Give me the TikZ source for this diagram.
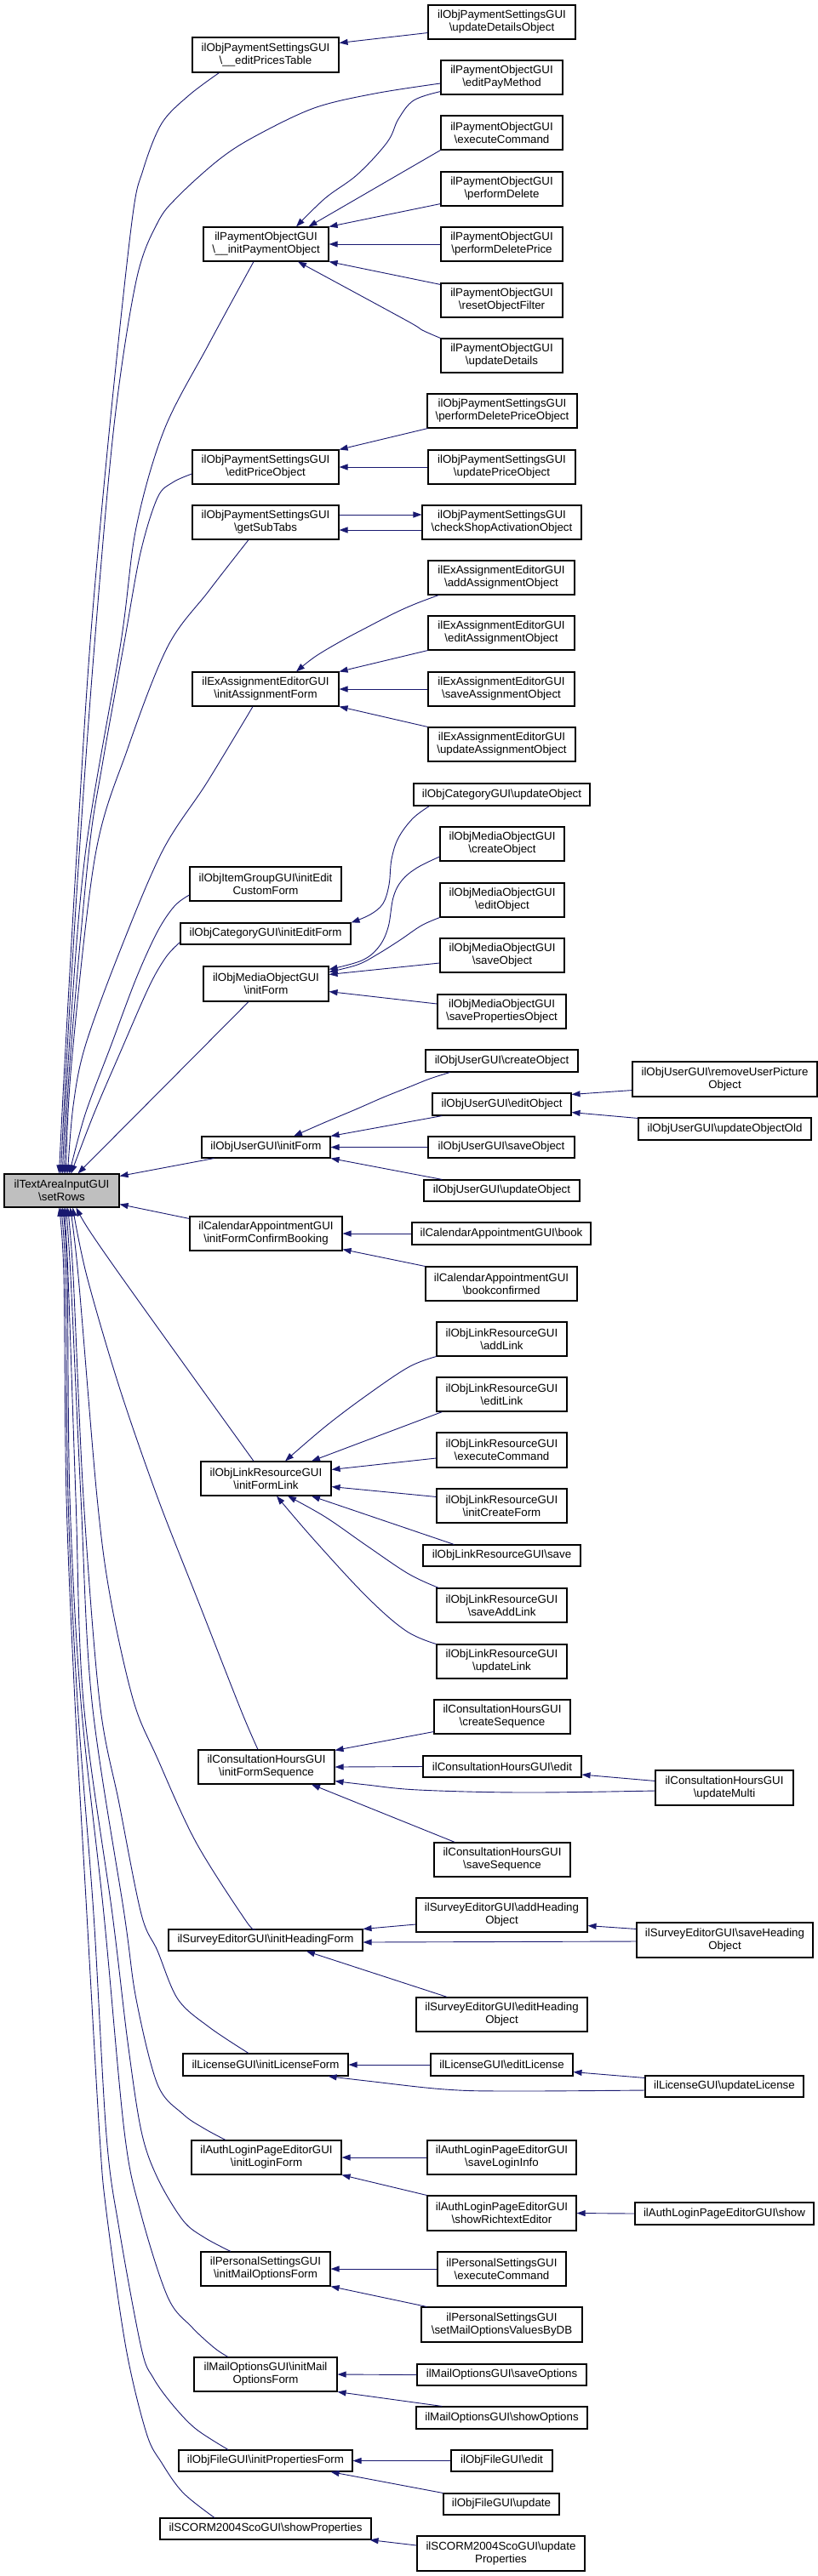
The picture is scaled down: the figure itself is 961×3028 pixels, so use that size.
\documentclass[tikz,border=0pt]{standalone}
\usepackage{fontspec}
\setmainfont{Liberation Sans}
\usetikzlibrary{arrows.meta,calc}
\definecolor{edgeblue}{HTML}{191970}
\definecolor{rootgray}{HTML}{BFBFBF}
\newcommand\bsl{\textbackslash}
\newcommand\bx[7][white]{%
  \pgfmathsetmacro\bxw{#5-#3}\pgfmathsetmacro\bxh{#6-#4}%
  \pgfmathsetmacro\bxx{(#3+#5)/2}\pgfmathsetmacro\bxy{(#4+#6)/2}%
  \node[nbox,fill=#1,minimum width=\bxw pt,minimum height=\bxh pt] (#2) at (\bxx,\bxy) {#7};}
\begin{document}
\begin{tikzpicture}[x=1pt,y=-1pt,
  nbox/.style={draw=black,line width=1.1pt,inner sep=0pt,align=center,
    font=\fontsize{13.3}{15}\selectfont},
  edge/.style={draw=edgeblue,line width=0.9pt,-{Triangle[length=10pt,width=7pt]}}]
\useasboundingbox (0,0) rectangle (961,3028);
% ---------------- nodes
\bx{eptable}{226}{44}{398}{85}{ilObjPaymentSettingsGUI\\\bsl\_\_editPricesTable}
\bx{upddetobj}{503}{6}{676}{46}{ilObjPaymentSettingsGUI\\\bsl updateDetailsObject}
\bx{editpay}{518}{71}{661}{111}{ilPaymentObjectGUI\\\bsl editPayMethod}
\bx{execpay}{518}{136}{661}{176}{ilPaymentObjectGUI\\\bsl executeCommand}
\bx{perfdel}{518}{202}{661}{242}{ilPaymentObjectGUI\\\bsl performDelete}
\bx{initpay}{239}{267}{386}{307}{ilPaymentObjectGUI\\\bsl\_\_initPaymentObject}
\bx{perfdelprice}{518}{267}{661}{307}{ilPaymentObjectGUI\\\bsl performDeletePrice}
\bx{resetfilter}{518}{333}{661}{373}{ilPaymentObjectGUI\\\bsl resetObjectFilter}
\bx{upddetails}{518}{398}{661}{438}{ilPaymentObjectGUI\\\bsl updateDetails}
\bx{perfdelpriceobj}{502}{463}{678}{503}{ilObjPaymentSettingsGUI\\\bsl performDeletePriceObject}
\bx{editprice}{226}{529}{398}{569}{ilObjPaymentSettingsGUI\\\bsl editPriceObject}
\bx{updprice}{503}{529}{676}{569}{ilObjPaymentSettingsGUI\\\bsl updatePriceObject}
\bx{subtabs}{226}{594}{398}{634}{ilObjPaymentSettingsGUI\\\bsl getSubTabs}
\bx{checkshop}{496}{594}{683}{634}{ilObjPaymentSettingsGUI\\\bsl checkShopActivationObject}
\bx{addassign}{503}{659}{675}{699}{ilExAssignmentEditorGUI\\\bsl addAssignmentObject}
\bx{editassign}{503}{724}{675}{764}{ilExAssignmentEditorGUI\\\bsl editAssignmentObject}
\bx{initassign}{226}{790}{398}{830}{ilExAssignmentEditorGUI\\\bsl initAssignmentForm}
\bx{saveassign}{503}{790}{675}{830}{ilExAssignmentEditorGUI\\\bsl saveAssignmentObject}
\bx{updassign}{503}{855}{676}{895}{ilExAssignmentEditorGUI\\\bsl updateAssignmentObject}
\bx{catupd}{486}{921}{693}{947}{ilObjCategoryGUI\bsl updateObject}
\bx{mmcreate}{517}{972}{663}{1012}{ilObjMediaObjectGUI\\\bsl createObject}
\bx{itemgroup}{223}{1019}{401}{1059}{ilObjItemGroupGUI\bsl initEdit\\CustomForm}
\bx{mmedit}{517}{1038}{663}{1078}{ilObjMediaObjectGUI\\\bsl editObject}
\bx{catinit}{212}{1085}{412}{1110}{ilObjCategoryGUI\bsl initEditForm}
\bx{mmsave}{517}{1103}{663}{1143}{ilObjMediaObjectGUI\\\bsl saveObject}
\bx{mminit}{239}{1136}{386}{1177}{ilObjMediaObjectGUI\\\bsl initForm}
\bx{mmsaveprop}{514}{1169}{665}{1209}{ilObjMediaObjectGUI\\\bsl savePropertiesObject}
\bx{ucreate}{500}{1234}{679}{1260}{ilObjUserGUI\bsl createObject}
\bx{uremove}{743}{1248}{960}{1289}{ilObjUserGUI\bsl removeUserPicture\\Object}
\bx{uedit}{508}{1285}{671}{1311}{ilObjUserGUI\bsl editObject}
\bx{uupdold}{750}{1314}{953}{1340}{ilObjUserGUI\bsl updateObjectOld}
\bx{uinit}{237}{1336}{388}{1361}{ilObjUserGUI\bsl initForm}
\bx{usave}{503}{1336}{675}{1361}{ilObjUserGUI\bsl saveObject}
\bx[rootgray]{setrows}{5}{1380}{140}{1419}{ilTextAreaInputGUI\\\bsl setRows}
\bx{uupd}{498}{1387}{681}{1412}{ilObjUserGUI\bsl updateObject}
\bx{calinit}{223}{1430}{402}{1470}{ilCalendarAppointmentGUI\\\bsl initFormConfirmBooking}
\bx{calbook}{484}{1437}{694}{1463}{ilCalendarAppointmentGUI\bsl book}
\bx{calbookconf}{500}{1489}{678}{1529}{ilCalendarAppointmentGUI\\\bsl bookconfirmed}
\bx{lnadd}{513}{1554}{666}{1594}{ilObjLinkResourceGUI\\\bsl addLink}
\bx{lnedit}{513}{1619}{666}{1659}{ilObjLinkResourceGUI\\\bsl editLink}
\bx{lnexec}{513}{1684}{666}{1725}{ilObjLinkResourceGUI\\\bsl executeCommand}
\bx{lninit}{236}{1718}{389}{1758}{ilObjLinkResourceGUI\\\bsl initFormLink}
\bx{lncreate}{513}{1750}{666}{1790}{ilObjLinkResourceGUI\\\bsl initCreateForm}
\bx{lnsave}{497}{1816}{682}{1841}{ilObjLinkResourceGUI\bsl save}
\bx{lnsaveadd}{513}{1867}{666}{1907}{ilObjLinkResourceGUI\\\bsl saveAddLink}
\bx{lnupd}{513}{1933}{666}{1973}{ilObjLinkResourceGUI\\\bsl updateLink}
\bx{chcreate}{510}{1998}{670}{2038}{ilConsultationHoursGUI\\\bsl createSequence}
\bx{chinit}{233}{2057}{393}{2097}{ilConsultationHoursGUI\\\bsl initFormSequence}
\bx{chedit}{497}{2064}{683}{2089}{ilConsultationHoursGUI\bsl edit}
\bx{chupd}{770}{2081}{932}{2122}{ilConsultationHoursGUI\\\bsl updateMulti}
\bx{chsave}{510}{2166}{670}{2206}{ilConsultationHoursGUI\\\bsl saveSequence}
\bx{svadd}{489}{2231}{690}{2271}{ilSurveyEditorGUI\bsl addHeading\\Object}
\bx{svinit}{198}{2268}{426}{2293}{ilSurveyEditorGUI\bsl initHeadingForm}
\bx{svsave}{748}{2260}{955}{2301}{ilSurveyEditorGUI\bsl saveHeading\\Object}
\bx{svedit}{489}{2348}{690}{2388}{ilSurveyEditorGUI\bsl editHeading\\Object}
\bx{licinit}{215}{2414}{409}{2440}{ilLicenseGUI\bsl initLicenseForm}
\bx{licedit}{506}{2414}{673}{2440}{ilLicenseGUI\bsl editLicense}
\bx{licupd}{758}{2440}{944}{2465}{ilLicenseGUI\bsl updateLicense}
\bx{alinit}{225}{2516}{401}{2556}{ilAuthLoginPageEditorGUI\\\bsl initLoginForm}
\bx{alsave}{502}{2516}{677}{2556}{ilAuthLoginPageEditorGUI\\\bsl saveLoginInfo}
\bx{alrich}{502}{2581}{677}{2622}{ilAuthLoginPageEditorGUI\\\bsl showRichtextEditor}
\bx{alshow}{746}{2589}{956}{2615}{ilAuthLoginPageEditorGUI\bsl show}
\bx{psinit}{236}{2647}{388}{2687}{ilPersonalSettingsGUI\\\bsl initMailOptionsForm}
\bx{psexec}{514}{2647}{665}{2687}{ilPersonalSettingsGUI\\\bsl executeCommand}
\bx{psset}{495}{2712}{684}{2753}{ilPersonalSettingsGUI\\\bsl setMailOptionsValuesByDB}
\bx{moinit}{228}{2771}{396}{2811}{ilMailOptionsGUI\bsl initMail\\OptionsForm}
\bx{mosave}{490}{2779}{689}{2804}{ilMailOptionsGUI\bsl saveOptions}
\bx{moshow}{489}{2829}{690}{2855}{ilMailOptionsGUI\bsl showOptions}
\bx{fiinit}{210}{2880}{414}{2905}{ilObjFileGUI\bsl initPropertiesForm}
\bx{fiedit}{530}{2880}{649}{2905}{ilObjFileGUI\bsl edit}
\bx{fiupd}{521}{2931}{657}{2956}{ilObjFileGUI\bsl update}
\bx{scshow}{188}{2960}{436}{2985}{ilSCORM2004ScoGUI\bsl showProperties}
\bx{scupd}{490}{2981}{687}{3022}{ilSCORM2004ScoGUI\bsl update\\Properties}
% ---------------- group edges
\draw[edge] ($(upddetobj.south west)+(0,-8)$) -- ($(eptable.north east)+(0,7)$);
\coordinate (p1a) at ($(editpay.south west)+(0,-4)$);
\coordinate (p1b) at ($(initpay.north)+(35.5,0)$);
\draw[edge] plot[smooth,tension=0.6] coordinates {(p1a) (486,118) (468,140) (455,167) (420,205) (382,233) (p1b)};
\draw[edge] (execpay.south west) -- ($(initpay.north)+(50,0)$);
\draw[edge] ($(perfdel.south west)+(0,-3)$) -- (initpay.north east);
\draw[edge] (perfdelprice.west) -- (initpay.east);
\draw[edge] ($(resetfilter.north west)+(0,2)$) -- (initpay.south east);
\coordinate (p2a) at (upddetails.north west);
\coordinate (p2b) at ($(initpay.south)+(37.5,0)$);
\draw[edge] plot[smooth,tension=0.5] coordinates {(p2a) (496,388) (478,377) (p2b)};
\draw[edge] ($(perfdelpriceobj.south west)+(1,0)$) -- (editprice.north east);
\draw[edge] (updprice.west) -- (editprice.east);
\draw[edge] ($(subtabs.east)+(0,-9)$) -- ($(checkshop.west)+(0,-9)$);
\draw[edge] ($(checkshop.west)+(0,9)$) -- ($(subtabs.east)+(0,9)$);
\coordinate (a1a) at ($(addassign.south west)+(13,0)$);
\coordinate (a1b) at ($(initassign.north)+(36,0)$);
\draw[edge] plot[smooth,tension=0.6] coordinates {(a1a) (490,709) (465,720) (430,738) (400,754) (370,772) (a1b)};
\draw[edge] (editassign.south west) -- (initassign.north east);
\draw[edge] (saveassign.west) -- (initassign.east);
\draw[edge] (updassign.north west) -- (initassign.south east);
\coordinate (c1a) at ($(catupd.south west)+(19,0)$);
\draw[edge] plot[smooth,tension=0.6] coordinates {(c1a) (485,962) (468,985) (460,1010) (457,1040) (450,1062) (435,1075) (catinit.north east)};
\coordinate (m1a) at ($(mmcreate.west)+(0,15)$);
\coordinate (m1b) at ($(mminit.north east)+(0,4)$);
\draw[edge] plot[smooth,tension=0.6] coordinates {(m1a) (490,1020) (472,1035) (462,1055) (456,1090) (445,1113) (425,1129) (m1b)};
\coordinate (m2b) at ($(mminit.north east)+(0,7)$);
\draw[edge] plot[smooth,tension=0.6] coordinates {(mmedit.south west) (495,1088) (470,1105) (443,1122) (420,1134) (m2b)};
\draw[edge] ($(mmsave.west)+(0,9)$) -- ($(mminit.north east)+(0,10)$);
\draw[edge] ($(mmsaveprop.west)+(0,-9)$) -- ($(mminit.south east)+(0,-12)$);
\coordinate (u1a) at ($(ucreate.south west)+(29,0)$);
\coordinate (u1b) at ($(uinit.north)+(32.5,0)$);
\draw[edge] plot[smooth,tension=0.6] coordinates {(u1a) (505,1268) (480,1278) (450,1290) (418,1304) (380,1320) (u1b)};
\draw[edge] ($(uedit.south west)+(12,0)$) -- (uinit.north east);
\draw[edge] (usave.west) -- (uinit.east);
\draw[edge] ($(uupd.north west)+(22,0)$) -- (uinit.south east);
\draw[edge] ($(uremove.south west)+(0,-8)$) -- ($(uedit.north east)+(0,2)$);
\draw[edge] ($(uupdold.north west)+(0,1)$) -- ($(uedit.south east)+(0,-4)$);
\draw[edge] (calbook.west) -- (calinit.east);
\draw[edge] (calbookconf.north west) -- ($(calinit.south east)+(0,-2)$);
\coordinate (l1b) at ($(lninit.north)+(22.5,0)$);
\draw[edge] plot[smooth,tension=0.6] coordinates {(lnadd.south west) (480,1607) (431,1640) (382,1677) (l1b)};
\draw[edge] ($(lnedit.south west)+(7,0)$) -- ($(lninit.north)+(53.5,0)$);
\draw[edge] ($(lnexec.west)+(0,9.5)$) -- ($(lninit.north east)+(0,10)$);
\draw[edge] ($(lncreate.north west)+(0,10)$) -- ($(lninit.south east)+(0,-11)$);
\draw[edge] ($(lnsave.north west)+(37,0)$) -- ($(lninit.south)+(53.5,0)$);
\coordinate (l2a) at ($(lnsaveadd.north west)+(3,0)$);
\coordinate (l2b) at ($(lninit.south)+(25.5,0)$);
\draw[edge] plot[smooth,tension=0.6] coordinates {(l2a) (480,1850) (431,1817) (382,1783) (l2b)};
\coordinate (l3b) at ($(lninit.south)+(12.5,0)$);
\draw[edge] plot[smooth,tension=0.6] coordinates {(lnupd.north west) (477,1917) (431,1877) (369,1810) (l3b)};
\draw[edge] ($(chcreate.south west)+(0,-3)$) -- ($(chinit.north east)+(0,1)$);
\draw[edge] (chedit.west) -- (chinit.east);
\draw[edge] ($(chupd.north west)+(0,13)$) -- ($(chedit.east)+(0,9.5)$);
\coordinate (h1a) at ($(chupd.west)+(0,3.5)$);
\coordinate (h1b) at ($(chinit.south east)+(0,-4)$);
\draw[edge] plot[smooth,tension=0.6] coordinates {(h1a) (615,2107) (492,2104) (431,2098) (h1b)};
\draw[edge] ($(chsave.north west)+(25,0)$) -- ($(chinit.south)+(53,0)$);
\draw[edge] ($(svadd.west)+(0,11)$) -- (svinit.north east);
\draw[edge] ($(svsave.north west)+(0,8)$) -- ($(svadd.south east)+(0,-8)$);
\draw[edge] ($(svsave.west)+(0,1.5)$) -- ($(svinit.east)+(0,2.5)$);
\draw[edge] ($(svedit.north west)+(37,0)$) -- ($(svinit.south)+(48,0)$);
\draw[edge] (licedit.west) -- (licinit.east);
\draw[edge] ($(licupd.north west)+(0,3)$) -- ($(licedit.south east)+(0,-5)$);
\coordinate (i1a) at ($(licupd.west)+(0,4.5)$);
\coordinate (i1b) at ($(licinit.south east)+(-24,0)$);
\draw[edge] plot[smooth,tension=0.6] coordinates {(i1a) (600,2458) (523,2456) (431,2446) (i1b)};
\draw[edge] (alsave.west) -- (alinit.east);
\draw[edge] (alrich.north west) -- (alinit.south east);
\draw[edge] (alshow.west) -- (alrich.east);
\draw[edge] (psexec.west) -- (psinit.east);
\draw[edge] ($(psset.north west)+(7,0)$) -- (psinit.south east);
\draw[edge] (mosave.west) -- (moinit.east);
\draw[edge] ($(moshow.north west)+(31,0)$) -- (moinit.south east);
\draw[edge] (fiedit.west) -- (fiinit.east);
\draw[edge] (fiupd.north west) -- ($(fiinit.south east)+(-26,0)$);
\draw[edge] ($(scupd.west)+(0,-9.5)$) -- ($(scshow.south east)+(-2,0)$);
% ---------------- edges into setRows (from above)
\coordinate (t1a) at ($(eptable.south west)+(32,0)$);
\coordinate (t1b) at ($(setrows.north west)+(65,0)$);
\draw[edge] plot[smooth,tension=0.55] coordinates {(t1a) (222,112) (190,145) (168,200) (155,260) (129,500) (106,755) (90,1005) (76,1250) (t1b)};
\coordinate (t2a) at ($(editpay.west)+(0,7)$);
\coordinate (t2b) at ($(setrows.north west)+(67,0)$);
\draw[edge] plot[smooth,tension=0.55] coordinates {(t2a) (440,110) (369,127) (300,160) (258,187) (210,230) (185,262) (160,330) (134,500) (111,758) (93,1005) (78,1250) (t2b)};
\coordinate (t3a) at ($(initpay.south)+(-14.5,0)$);
\coordinate (t3b) at ($(setrows.north west)+(69,0)$);
\draw[edge] plot[smooth,tension=0.55] coordinates {(t3a) (245,405) (193,505) (160,620) (142,755) (100,1005) (80,1250) (t3b)};
\coordinate (t4a) at ($(editprice.west)+(0,8)$);
\coordinate (t4b) at ($(setrows.north west)+(71,0)$);
\draw[edge] plot[smooth,tension=0.55] coordinates {(t4a) (203,567) (185,585) (165,650) (146,755) (120,900) (104,1005) (82,1250) (t4b)};
\coordinate (t5a) at ($(subtabs.south)+(-20,0)$);
\coordinate (t5b) at ($(setrows.north west)+(73,0)$);
\draw[edge] plot[smooth,tension=0.55] coordinates {(t5a) (245,695) (197,760) (150,880) (112,1005) (84,1250) (t5b)};
\coordinate (t6a) at ($(initassign.south)+(-15,0)$);
\coordinate (t6b) at ($(setrows.north west)+(75,0)$);
\draw[edge] plot[smooth,tension=0.55] coordinates {(t6a) (243,920) (191,1000) (140,1120) (100,1230) (86,1300) (t6b)};
\coordinate (t7a) at ($(itemgroup.west)+(0,13)$);
\coordinate (t7b) at ($(setrows.north west)+(77,0)$);
\draw[edge] plot[smooth,tension=0.55] coordinates {(t7a) (205,1065) (185,1095) (160,1150) (130,1230) (100,1310) (t7b)};
\coordinate (t8a) at ($(catinit.south west)+(0,-3)$);
\coordinate (t8b) at ($(setrows.north west)+(79,0)$);
\draw[edge] plot[smooth,tension=0.55] coordinates {(t8a) (195,1125) (175,1160) (140,1240) (110,1310) (t8b)};
\draw[edge] ($(mminit.south)+(-20.5,0)$) -- ($(setrows.north west)+(87,0)$);
\draw[edge] ($(uinit.south west)+(15,0)$) -- ($(setrows.north east)+(0,3)$);
% ---------------- edges into setRows (from below)
\draw[edge] ($(calinit.north west)+(0,3)$) -- ($(setrows.south east)+(0,-4)$);
\coordinate (b2a) at ($(lninit.north)+(-14.5,0)$);
\coordinate (b2b) at ($(setrows.south west)+(85,0)$);
\draw[edge] plot[smooth,tension=0.55] coordinates {(b2a) (220,1609) (142,1500) (104,1445) (b2b)};
\coordinate (b3a) at ($(chinit.north)+(-10,0)$);
\coordinate (b3b) at ($(setrows.south west)+(81,0)$);
\draw[edge] plot[smooth,tension=0.55] coordinates {(b3a) (283,2010) (234,1885) (185,1760) (140,1630) (102,1500) (b3b)};
\coordinate (b4a) at ($(svinit.north)+(-12,0)$);
\coordinate (b4b) at ($(setrows.south west)+(78,0)$);
\draw[edge] plot[smooth,tension=0.55] coordinates {(b4a) (289,2258) (230,2165) (185,2067) (157,2000) (130,1880) (114,1760) (92,1500) (b4b)};
\coordinate (b5a) at ($(licinit.north)+(-20,0)$);
\coordinate (b5b) at ($(setrows.south west)+(75,0)$);
\draw[edge] plot[smooth,tension=0.55] coordinates {(b5a) (246,2383) (209,2350) (185,2293) (166,2250) (140,2120) (117,2000) (98,1760) (86,1500) (b5b)};
\coordinate (b6a) at ($(alinit.north)+(-48,0)$);
\coordinate (b6b) at ($(setrows.south west)+(73,0)$);
\draw[edge] plot[smooth,tension=0.55] coordinates {(b6a) (240,2502) (215,2485) (185,2450) (160,2350) (146,2250) (108,2000) (95,1760) (83,1500) (b6b)};
\coordinate (b7a) at ($(psinit.north)+(-41,0)$);
\coordinate (b7b) at ($(setrows.south west)+(71,0)$);
\draw[edge] plot[smooth,tension=0.55] coordinates {(b7a) (240,2630) (215,2610) (185,2560) (166,2505) (150,2400) (132,2250) (98,2000) (89,1760) (80,1500) (b7b)};
\coordinate (b8a) at ($(moinit.north)+(-44,0)$);
\coordinate (b8b) at ($(setrows.south west)+(69,0)$);
\draw[edge] plot[smooth,tension=0.55] coordinates {(b8a) (252,2760) (225,2735) (197,2700) (165,2600) (146,2505) (122,2250) (95,2000) (82,1760) (79,1500) (b8b)};
\coordinate (b9a) at ($(fiinit.north)+(-44,0)$);
\coordinate (b9b) at ($(setrows.south west)+(67,0)$);
\draw[edge] plot[smooth,tension=0.55] coordinates {(b9a) (230,2855) (203,2827) (180,2795) (166,2760) (140,2620) (125,2510) (110,2250) (91,2000) (80,1760) (77,1500) (b9b)};
\coordinate (b10a) at ($(scshow.north)+(-60,0)$);
\coordinate (b10b) at ($(setrows.south west)+(65,0)$);
\draw[edge] plot[smooth,tension=0.55] coordinates {(b10a) (215,2930) (190,2895) (172,2860) (148,2760) (125,2600) (117,2510) (102,2250) (88,2000) (78,1760) (75,1500) (b10b)};
\end{tikzpicture}
\end{document}
